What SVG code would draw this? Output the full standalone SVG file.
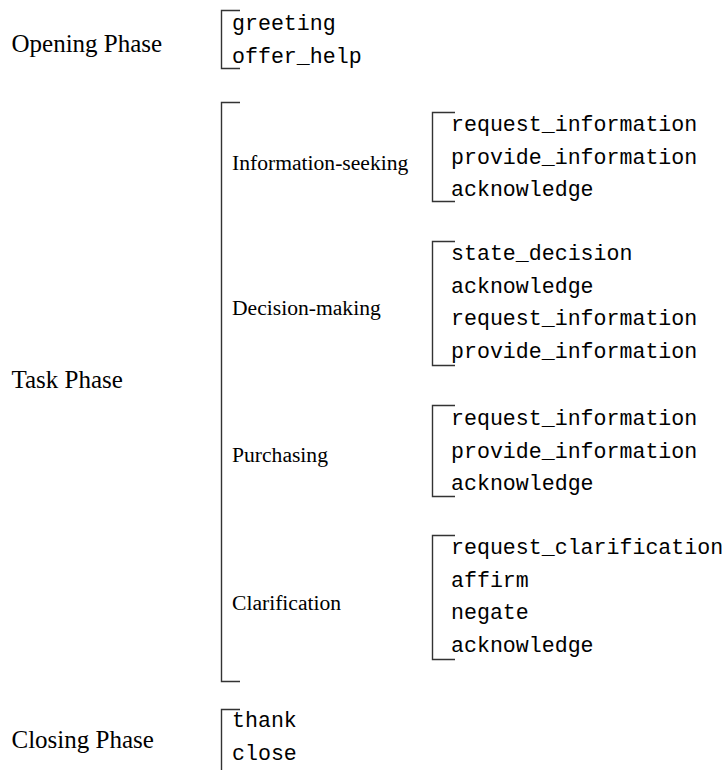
<svg xmlns="http://www.w3.org/2000/svg" width="728" height="770" viewBox="0 0 728 770">
<style>
.ph{font-family:"Liberation Serif","Times New Roman",serif;font-size:25px;fill:#000}
.sub{font-family:"Liberation Serif","Times New Roman",serif;font-size:21.6px;fill:#000}
.it{font-family:"Liberation Mono","Courier New",monospace;font-size:21.6px;fill:#000}
.br{fill:none;stroke:#333;stroke-width:1.4}
</style>
<rect width="728" height="770" fill="#fff"/>
<g id="connectors">
<path class="br" d="M240,10.5 H221.5 V68.5 H240"/>
<path class="br" d="M240,102.5 H221.5 V681.5 H240"/>
<path class="br" d="M455,112.5 H432.5 V201.5 H455"/>
<path class="br" d="M455,241.5 H432.5 V365.5 H455"/>
<path class="br" d="M455,405.5 H432.5 V496.5 H455"/>
<path class="br" d="M455,535.5 H432.5 V659.5 H455"/>
<path class="br" d="M240,709.5 H221.5 V790"/>
</g>
<g id="opening">
<text class="ph" x="11.5" y="52">Opening Phase</text>
<text class="it" x="232" y="30">greeting</text>
<text class="it" x="232" y="63">offer_help</text>
</g>
<g id="task">
<text class="ph" x="11.5" y="388">Task Phase</text>
</g>
<g id="info">
<text class="sub" x="232" y="170">Information-seeking</text>
<text class="it" x="451" y="131">request_information</text>
<text class="it" x="451" y="163.5">provide_information</text>
<text class="it" x="451" y="196">acknowledge</text>
</g>
<g id="decision">
<text class="sub" x="232" y="315">Decision-making</text>
<text class="it" x="451" y="260">state_decision</text>
<text class="it" x="451" y="292.7">acknowledge</text>
<text class="it" x="451" y="325.4">request_information</text>
<text class="it" x="451" y="358.1">provide_information</text>
</g>
<g id="purchasing">
<text class="sub" x="232" y="462">Purchasing</text>
<text class="it" x="451" y="425">request_information</text>
<text class="it" x="451" y="457.7">provide_information</text>
<text class="it" x="451" y="490.4">acknowledge</text>
</g>
<g id="clarification">
<text class="sub" x="232" y="610">Clarification</text>
<text class="it" x="451" y="554">request_clarification</text>
<text class="it" x="451" y="586.7">affirm</text>
<text class="it" x="451" y="619.4">negate</text>
<text class="it" x="451" y="652.1">acknowledge</text>
</g>
<g id="closing">
<text class="ph" x="11.5" y="748">Closing Phase</text>
<text class="it" x="232" y="727">thank</text>
<text class="it" x="232" y="760">close</text>
</g>
</svg>
